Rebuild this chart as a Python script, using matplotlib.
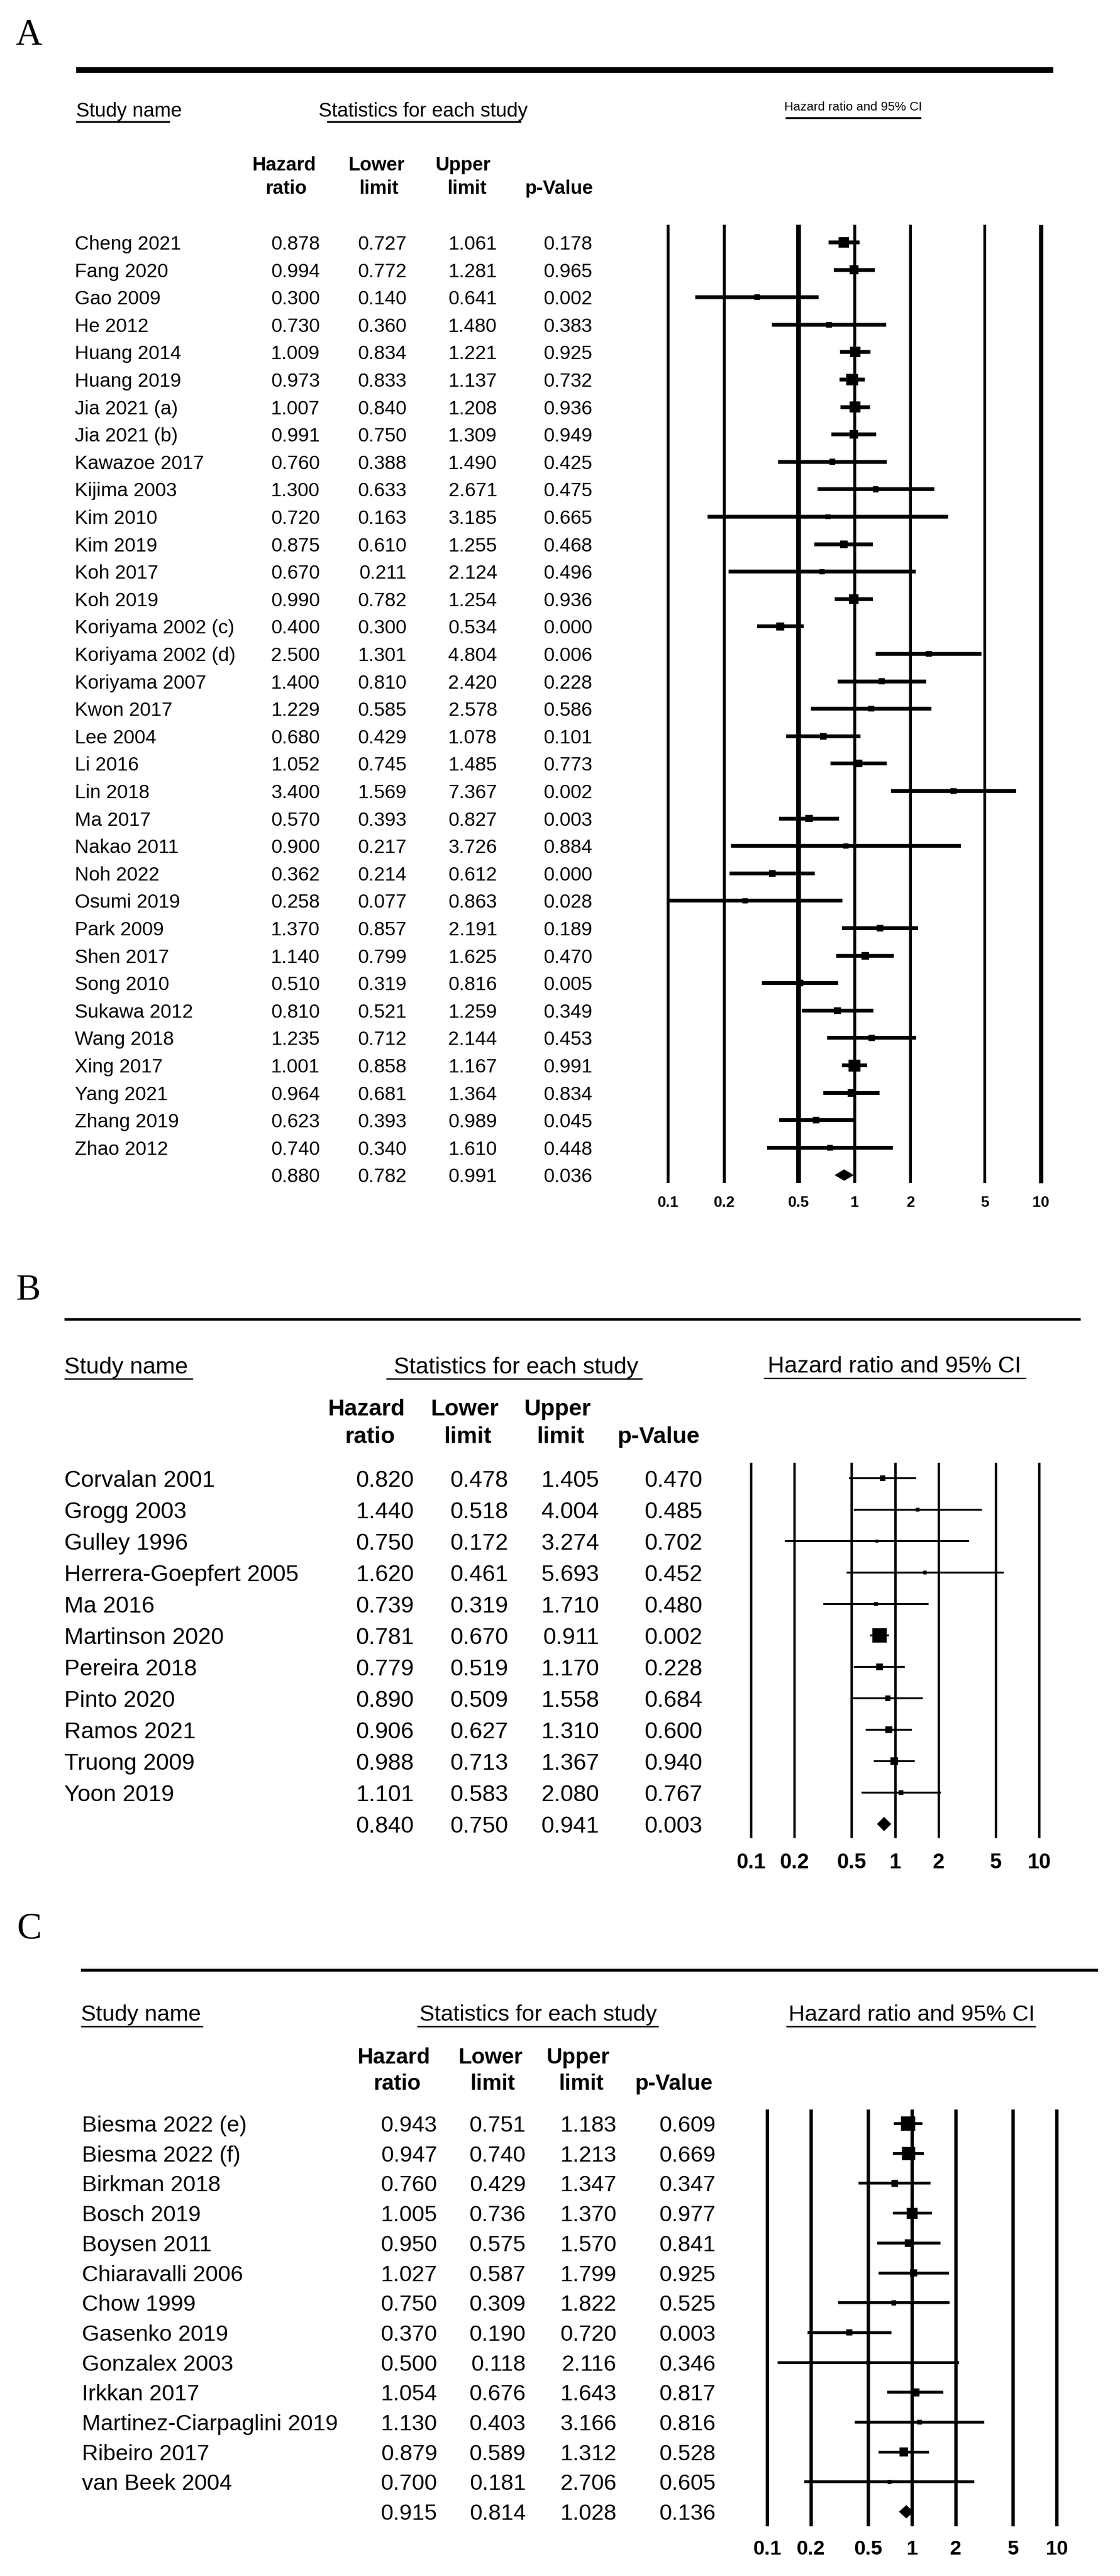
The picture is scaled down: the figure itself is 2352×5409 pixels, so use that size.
import numpy as np
import matplotlib
matplotlib.use('Agg')
import matplotlib.pyplot as plt

# ---------------- data ----------------
a_names = ["Cheng 2021", "Fang 2020", "Gao 2009", "He 2012", "Huang 2014", "Huang 2019",
           "Jia 2021 (a)", "Jia 2021 (b)", "Kawazoe 2017", "Kijima 2003", "Kim 2010", "Kim 2019",
           "Koh 2017", "Koh 2019", "Koriyama 2002 (c)", "Koriyama 2002 (d)", "Koriyama 2007",
           "Kwon 2017", "Lee 2004", "Li 2016", "Lin 2018", "Ma 2017", "Nakao 2011", "Noh 2022",
           "Osumi 2019", "Park 2009", "Shen 2017", "Song 2010", "Sukawa 2012", "Wang 2018",
           "Xing 2017", "Yang 2021", "Zhang 2019", "Zhao 2012"]
a_hr = [0.878, 0.994, 0.300, 0.730, 1.009, 0.973, 1.007, 0.991, 0.760, 1.300, 0.720, 0.875,
        0.670, 0.990, 0.400, 2.500, 1.400, 1.229, 0.680, 1.052, 3.400, 0.570, 0.900, 0.362,
        0.258, 1.370, 1.140, 0.510, 0.810, 1.235, 1.001, 0.964, 0.623, 0.740]
a_lo = [0.727, 0.772, 0.140, 0.360, 0.834, 0.833, 0.840, 0.750, 0.388, 0.633, 0.163, 0.610,
        0.211, 0.782, 0.300, 1.301, 0.810, 0.585, 0.429, 0.745, 1.569, 0.393, 0.217, 0.214,
        0.077, 0.857, 0.799, 0.319, 0.521, 0.712, 0.858, 0.681, 0.393, 0.340]
a_hi = [1.061, 1.281, 0.641, 1.480, 1.221, 1.137, 1.208, 1.309, 1.490, 2.671, 3.185, 1.255,
        2.124, 1.254, 0.534, 4.804, 2.420, 2.578, 1.078, 1.485, 7.367, 0.827, 3.726, 0.612,
        0.863, 2.191, 1.625, 0.816, 1.259, 2.144, 1.167, 1.364, 0.989, 1.610]
a_p = [0.178, 0.965, 0.002, 0.383, 0.925, 0.732, 0.936, 0.949, 0.425, 0.475, 0.665, 0.468,
       0.496, 0.936, 0.000, 0.006, 0.228, 0.586, 0.101, 0.773, 0.002, 0.003, 0.884, 0.000,
       0.028, 0.189, 0.470, 0.005, 0.349, 0.453, 0.991, 0.834, 0.045, 0.448]
a_summary = [0.880, 0.782, 0.991, 0.036]

b_names = ["Corvalan 2001", "Grogg 2003", "Gulley 1996", "Herrera-Goepfert 2005", "Ma 2016",
           "Martinson 2020", "Pereira 2018", "Pinto 2020", "Ramos 2021", "Truong 2009", "Yoon 2019"]
b_hr = [0.820, 1.440, 0.750, 1.620, 0.739, 0.781, 0.779, 0.890, 0.906, 0.988, 1.101]
b_lo = [0.478, 0.518, 0.172, 0.461, 0.319, 0.670, 0.519, 0.509, 0.627, 0.713, 0.583]
b_hi = [1.405, 4.004, 3.274, 5.693, 1.710, 0.911, 1.170, 1.558, 1.310, 1.367, 2.080]
b_p = [0.470, 0.485, 0.702, 0.452, 0.480, 0.002, 0.228, 0.684, 0.600, 0.940, 0.767]
b_summary = [0.840, 0.750, 0.941, 0.003]

c_names = ["Biesma 2022 (e)", "Biesma 2022 (f)", "Birkman 2018", "Bosch 2019", "Boysen 2011",
           "Chiaravalli 2006", "Chow 1999", "Gasenko 2019", "Gonzalex 2003", "Irkkan 2017",
           "Martinez-Ciarpaglini 2019", "Ribeiro 2017", "van Beek 2004"]
c_hr = [0.943, 0.947, 0.760, 1.005, 0.950, 1.027, 0.750, 0.370, 0.500, 1.054, 1.130, 0.879, 0.700]
c_lo = [0.751, 0.740, 0.429, 0.736, 0.575, 0.587, 0.309, 0.190, 0.118, 0.676, 0.403, 0.589, 0.181]
c_hi = [1.183, 1.213, 1.347, 1.370, 1.570, 1.799, 1.822, 0.720, 2.116, 1.643, 3.166, 1.312, 2.706]
c_p = [0.609, 0.669, 0.347, 0.977, 0.841, 0.925, 0.525, 0.003, 0.346, 0.817, 0.816, 0.528, 0.605]
c_summary = [0.915, 0.814, 1.028, 0.136]

tick_vals = [0.1, 0.2, 0.5, 1, 2, 5, 10]
tick_labels = ["0.1", "0.2", "0.5", "1", "2", "5", "10"]

# ---------------- figure ----------------
W, H = 2352, 5409
DPI = 100
PT = 72.0 / DPI
FONT = ['Liberation Sans', 'DejaVu Sans']
SERIF = ['Liberation Serif', 'DejaVu Serif']

fig = plt.figure(figsize=(W / DPI, H / DPI), dpi=DPI)
fig.patch.set_facecolor('white')
bg = fig.add_axes([0, 0, 1, 1])
bg.set_xlim(0, W)
bg.set_ylim(H, 0)
bg.axis('off')


def txt(x, y, s, size, ha='left', weight='normal', family=FONT):
    bg.text(x, y, s, fontsize=size, ha=ha, va='center_baseline', fontweight=weight,
            family=family, color='black')


def rule(x0, x1, y, lwpx):
    bg.plot([x0, x1], [y, y], color='black', lw=lwpx * PT, solid_capstyle='butt')


def panel(cfg, names, hr, lo, hi, pv, summ):
    n = len(names)
    row0, step = cfg['row0'], cfg['step']
    fs = cfg['fs']
    txt(cfg['letter_xy'][0], cfg['letter_xy'][1], cfg['letter'], 56, ha='center', family=SERIF)
    rule(cfg['rule'][0], cfg['rule'][1], cfg['rule'][2], cfg['rule'][3])
    sx, sy, sul = cfg['study']
    txt(sx, sy, "Study name", cfg['tfs'])
    rule(sul[0], sul[1], sul[2], cfg['ulw'])
    stx, sty, stul = cfg['stats']
    txt(stx, sty, "Statistics for each study", cfg['tfs'], ha='center')
    rule(stul[0], stul[1], stul[2], cfg['ulw'])
    cx, cy, cfs, cul = cfg['ci']
    txt(cx, cy, "Hazard ratio and 95% CI", cfs, ha='center')
    rule(cul[0], cul[1], cul[2], cfg['ulw'])
    y1, y2 = cfg['hdr_y']
    hx = cfg['hdr_x']
    txt(hx[0][0], y1, "Hazard", cfg['hfs'], ha='center', weight='bold')
    txt(hx[0][1], y2, "ratio", cfg['hfs'], ha='center', weight='bold')
    txt(hx[1][0], y1, "Lower", cfg['hfs'], ha='center', weight='bold')
    txt(hx[1][1], y2, "limit", cfg['hfs'], ha='center', weight='bold')
    txt(hx[2][0], y1, "Upper", cfg['hfs'], ha='center', weight='bold')
    txt(hx[2][1], y2, "limit", cfg['hfs'], ha='center', weight='bold')
    txt(hx[3], y2, "p-Value", cfg['hfs'], ha='center', weight='bold')
    cols = cfg['cols']
    for i in range(n):
        y = row0 + i * step
        txt(cfg['name_x'], y, names[i], fs)
        for c, v in zip(cols, (hr[i], lo[i], hi[i], pv[i])):
            txt(c, y, f"{v:.3f}", fs, ha='right')
    y = row0 + n * step
    for c, v in zip(cols, summ):
        txt(c, y, f"{v:.3f}", fs, ha='right')

    x0, x1 = cfg['xaxis']
    top, bot = cfg['lines']
    ax = fig.add_axes([x0 / W, 1 - bot / H, (x1 - x0) / W, (bot - top) / H])
    ax.set_xscale('log')
    ax.set_xlim(0.1, 10)
    r_top = (top - row0) / step
    r_bot = (bot - row0) / step
    ax.set_ylim(r_bot, r_top)
    ax.axis('off')
    ax.patch.set_alpha(0)
    for t, lw in zip(tick_vals, cfg['vlw']):
        ax.vlines(t, r_bot, r_top, color='black', lw=lw * PT, clip_on=False)
    rows = np.arange(n)
    lo_a = np.clip(np.array(lo), 0.1, 10)
    hi_a = np.clip(np.array(hi), 0.1, 10)
    ax.hlines(rows, lo_a, hi_a, color='black', lw=cfg['cilw'] * PT, clip_on=False)
    se = (np.log(np.array(hi)) - np.log(np.array(lo))) / 3.92
    w = 1.0 / se ** 2
    a0, a1 = cfg['box']
    side = a0 + a1 * np.sqrt(w / w.max())
    ax.scatter(hr, rows, s=(side * PT) ** 2, marker='s', color='black', linewidths=0,
               zorder=3, clip_on=False)
    dh = cfg['dh'] / step
    ax.fill([summ[1], summ[0], summ[2], summ[0]], [n, n - dh, n, n + dh], color='black',
            lw=0, zorder=3)
    r_lab = (cfg['lab_y'] - row0) / step
    for t, lab in zip(tick_vals, tick_labels):
        ax.text(t, r_lab, lab, ha='center', va='center_baseline', fontsize=cfg['tkfs'],
                fontweight='bold', family=FONT, clip_on=False)


cfgA = dict(letter='A', letter_xy=(60, 66), rule=(160, 2212, 147, 12),
            study=(160, 230, (160, 357, 256)), stats=(889, 230, (687, 1095, 256)),
            ci=(1792, 223, 19, (1650, 1935, 248)), tfs=30, ulw=4, hfs=29,
            hdr_y=(343, 392), hdr_x=((596, 601), (790, 796), (973, 981), 1174),
            row0=509, step=57.6, fs=29.5, name_x=157, cols=(672, 854, 1044, 1244),
            xaxis=(1403, 2186), lines=(472, 2484), vlw=(6, 6, 10, 6, 6, 6, 9), cilw=8,
            box=(9, 16), dh=12, lab_y=2523, tkfs=23)
cfgB = dict(letter='B', letter_xy=(60, 2702), rule=(135, 2269, 2770, 5),
            study=(135, 2867, (135, 405, 2895)), stats=(1084, 2867, (811, 1349, 2895)),
            ci=(1878, 2865, 35, (1604, 2155, 2894)), tfs=35, ulw=3, hfs=35,
            hdr_y=(2954, 3012), hdr_x=((770, 777), (976, 983), (1170, 1178), 1383),
            row0=3104, step=66.0, fs=35, name_x=135, cols=(869, 1067, 1258, 1475),
            xaxis=(1577, 2182), lines=(3071, 3859), vlw=(5, 5, 5, 5, 5, 5, 5), cilw=4,
            box=(4, 26), dh=15, lab_y=3907, tkfs=32)
cfgC = dict(letter='C', letter_xy=(62, 4043), rule=(170, 2306, 4137, 6),
            study=(170, 4226, (170, 426, 4255)), stats=(1130, 4226, (876, 1383, 4255)),
            ci=(1915, 4226, 34, (1651, 2175, 4255)), tfs=34, ulw=3, hfs=33,
            hdr_y=(4316, 4371), hdr_x=((827, 835), (1030, 1035), (1214, 1221), 1416),
            row0=4459, step=62.7, fs=34, name_x=172, cols=(918, 1104, 1295, 1503),
            xaxis=(1611, 2219), lines=(4429, 5304), vlw=(7, 7, 7, 7, 7, 7, 7), cilw=6,
            box=(4, 26), dh=14, lab_y=5349, tkfs=31)

panel(cfgA, a_names, a_hr, a_lo, a_hi, a_p, a_summary)
panel(cfgB, b_names, b_hr, b_lo, b_hi, b_p, b_summary)
panel(cfgC, c_names, c_hr, c_lo, c_hi, c_p, c_summary)

fig.savefig('out.png', dpi=DPI, facecolor='white')
